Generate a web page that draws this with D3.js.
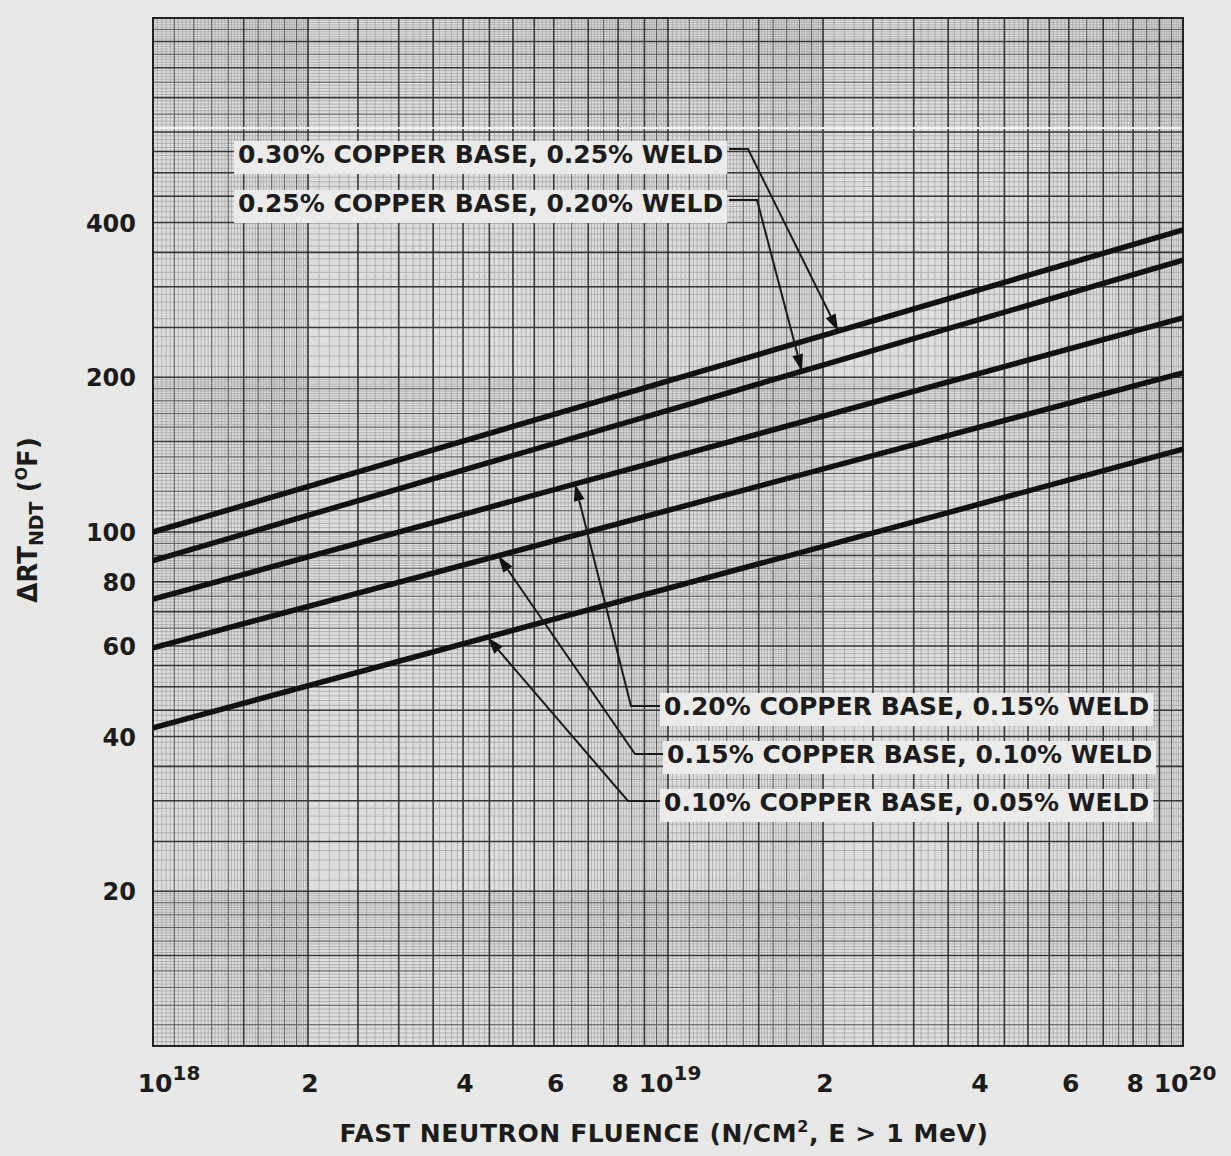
<!DOCTYPE html>
<html>
<head>
<meta charset="utf-8">
<script src="https://cdn.jsdelivr.net/npm/d3@7/dist/d3.min.js"></script>
<style>
	html, body { margin: 0; padding: 0; background: #e8e8e6; }
	svg { display: block; }
	text { font-family: "DejaVu Sans", sans-serif; font-weight: bold; fill: #1c1c1c; }
</style>
</head>
<body>
<div id="chart"></div>
<script>
// fluence (n/cm2, E > 1 MeV) at the two ends of each straight line
var fluence = [1e18, 1e20];

// shift in RT_NDT (deg F) at both ends
var cu30 = [100, 387];
var cu25 = [88, 338];
var cu20 = [74, 261];
var cu15 = [59.5, 204];
var cu10 = [41.6, 145];

var seriesLabels = [
	"0.30% COPPER BASE, 0.25% WELD",
	"0.25% COPPER BASE, 0.20% WELD",
	"0.20% COPPER BASE, 0.15% WELD",
	"0.15% COPPER BASE, 0.10% WELD",
	"0.10% COPPER BASE, 0.05% WELD"
];

// fluence where each label's arrow touches its line
var arrowAt = [2.14e19, 1.82e19, 6.6e18, 4.68e18, 4.46e18];

var yTicks = [20, 40, 60, 80, 100, 200, 400];
var xTicks = [1e18, 2e18, 4e18, 6e18, 8e18, 1e19, 2e19, 4e19, 6e19, 8e19, 1e20];

(function () {
	var width = 1231, height = 1156;
	var series = [cu30, cu25, cu20, cu15, cu10];

	var x = d3.scaleLog().domain([1e18, 1e20]).range([153, 1183]);
	var y = d3.scaleLog().domain([10, 1000]).range([1046, 18]);

	var svg = d3.select("#chart").append("svg")
		.attr("width", width)
		.attr("height", height);

	// paper
	svg.append("rect")
		.attr("x", x.range()[0]).attr("y", y.range()[1])
		.attr("width", x.range()[1] - x.range()[0])
		.attr("height", y.range()[0] - y.range()[1])
		.attr("fill", "#dededc");

	// log paper rulings, mantissa in hundredths
	function marks(bases, list) {
		var out = [];
		bases.forEach(function (b) {
			list.forEach(function (m) { out.push(b * m / 100); });
		});
		return out;
	}
	var fine = [], medium = [], heavy = [];
	for (var m = 100; m < 200; m += 2) fine.push(m);
	for (m = 200; m < 1000; m += 10) fine.push(m);
	for (m = 110; m < 200; m += 10) if (m != 150) medium.push(m);
	[650, 750, 850, 950].forEach(function (v) { medium.push(v); });
	for (m = 100; m <= 550; m += 50) heavy.push(m);
	[600, 700, 800, 900].forEach(function (v) { heavy.push(v); });

	var grid = svg.append("g").attr("class", "grid");
	function rule(vals, cls, color, w, op) {
		var g = grid.append("g").attr("class", cls)
			.attr("stroke", color).attr("stroke-width", w).attr("opacity", op);
		g.selectAll("line.v").data(marks([1e18, 1e19], vals)).enter().append("line")
			.attr("class", "v")
			.attr("x1", function (d) { return x(d); }).attr("x2", function (d) { return x(d); })
			.attr("y1", y.range()[1]).attr("y2", y.range()[0]);
		g.selectAll("line.h").data(marks([10, 100], vals)).enter().append("line")
			.attr("class", "h")
			.attr("y1", function (d) { return y(d); }).attr("y2", function (d) { return y(d); })
			.attr("x1", x.range()[0]).attr("x2", x.range()[1]);
	}
	rule(fine, "fine", "#6f6f6f", 0.7, 0.55);
	rule(medium, "medium", "#4a4a4a", 1, 0.8);
	rule(heavy, "heavy", "#2a2a2a", 1.6, 0.9);

	// scan seam across the upper paper
	svg.append("line")
		.attr("x1", x.range()[0]).attr("x2", x.range()[1])
		.attr("y1", 128).attr("y2", 128)
		.attr("stroke", "#f3f3f1").attr("stroke-width", 2);

	svg.append("rect")
		.attr("x", x.range()[0]).attr("y", y.range()[1])
		.attr("width", x.range()[1] - x.range()[0])
		.attr("height", y.range()[0] - y.range()[1])
		.attr("fill", "none").attr("stroke", "#222").attr("stroke-width", 2);

	// trend lines
	var line = d3.line()
		.x(function (d) { return x(d[0]); })
		.y(function (d) { return y(d[1]); });
	svg.append("g").attr("class", "curves").selectAll("path")
		.data(series).enter().append("path")
		.attr("d", function (s) { return line(fluence.map(function (f, i) { return [f, s[i]]; })); })
		.attr("fill", "none").attr("stroke", "#111").attr("stroke-width", 5.5)
		.attr("stroke-linecap", "butt");

	function valueAt(s, f) {
		var t = (Math.log(f) - Math.log(fluence[0])) / (Math.log(fluence[1]) - Math.log(fluence[0]));
		return Math.exp(Math.log(s[0]) + t * (Math.log(s[1]) - Math.log(s[0])));
	}

	// label layout: text start, baseline, leader start and bend
	var layout = [
		{ tx: 238, ty: 163, from: [729, 149], bend: [748, 149] },
		{ tx: 238, ty: 212, from: [729, 200], bend: [757, 200] },
		{ tx: 664, ty: 715, from: [661, 706], bend: [631, 706] },
		{ tx: 667, ty: 763, from: [665, 754], bend: [635, 754] },
		{ tx: 664, ty: 811, from: [661, 801], bend: [628, 801] }
	];

	var notes = svg.append("g").attr("class", "notes");
	layout.forEach(function (l, i) {
		var tip = [x(arrowAt[i]), y(valueAt(series[i], arrowAt[i]))];
		var dx = tip[0] - l.bend[0], dy = tip[1] - l.bend[1];
		var len = Math.sqrt(dx * dx + dy * dy), ux = dx / len, uy = dy / len;
		var hl = 17, hw = 5.5;
		var base = [tip[0] - ux * hl, tip[1] - uy * hl];

		notes.append("path")
			.attr("d", "M" + l.from + "L" + l.bend + "L" + base)
			.attr("fill", "none").attr("stroke", "#1a1a1a").attr("stroke-width", 2);
		notes.append("path")
			.attr("d", "M" + tip + "L" + [base[0] - uy * hw, base[1] + ux * hw] +
				"L" + [base[0] + uy * hw, base[1] - ux * hw] + "Z")
			.attr("fill", "#111");

		var g = notes.append("g");
		var t = g.append("text")
			.attr("x", l.tx).attr("y", l.ty)
			.style("font-size", "25px")
			.text(seriesLabels[i]);
		var bb = t.node().getBBox();
		g.insert("rect", "text")
			.attr("x", bb.x - 4).attr("y", bb.y + 1)
			.attr("width", bb.width + 8).attr("height", bb.height + 4)
			.attr("fill", "#ebebe9");
	});

	// y tick labels
	svg.append("g").attr("class", "y-ticks").selectAll("text")
		.data(yTicks).enter().append("text")
		.attr("x", 136)
		.attr("y", function (d) { return y(d) + 9; })
		.attr("text-anchor", "end")
		.style("font-size", "24px")
		.text(function (d) { return d; });

	// x tick labels: mantissa, or 10 with the exponent raised
	var xt = svg.append("g").attr("class", "x-ticks").selectAll("text")
		.data(xTicks).enter().append("text")
		.attr("x", function (d, i) { return x(d) + (i == 0 ? 16 : 2); })
		.attr("y", 1092)
		.attr("text-anchor", "middle")
		.style("font-size", "25px");
	xt.each(function (d) {
		var e = Math.floor(Math.log10(d) + 1e-9), mant = Math.round(d / Math.pow(10, e));
		var sel = d3.select(this);
		if (mant == 1) {
			sel.append("tspan").text("10");
			sel.append("tspan").attr("dy", -12).style("font-size", "20px").text(e);
		} else {
			sel.text(mant);
		}
	});

	// axis titles
	var xTitle = svg.append("text")
		.attr("x", 664).attr("y", 1142)
		.attr("text-anchor", "middle")
		.style("font-size", "25px")
		.style("letter-spacing", "0.6px");
	xTitle.append("tspan").text("FAST NEUTRON FLUENCE (N/CM");
	xTitle.append("tspan").attr("dy", -10).style("font-size", "16px").text("2");
	xTitle.append("tspan").attr("dy", 10).text(", E > 1 MeV)");

	var yTitle = svg.append("text")
		.attr("transform", "translate(37,520) rotate(-90)")
		.attr("text-anchor", "middle")
		.style("font-size", "26px");
	yTitle.append("tspan").text("\u0394RT");
	yTitle.append("tspan").attr("dy", 6).style("font-size", "19px").text("NDT");
	yTitle.append("tspan").attr("dy", -6).text(" (");
	yTitle.append("tspan").attr("dy", -10).style("font-size", "16px").text("O");
	yTitle.append("tspan").attr("dy", 10).text("F)");
})();
</script>
</body>
</html>
